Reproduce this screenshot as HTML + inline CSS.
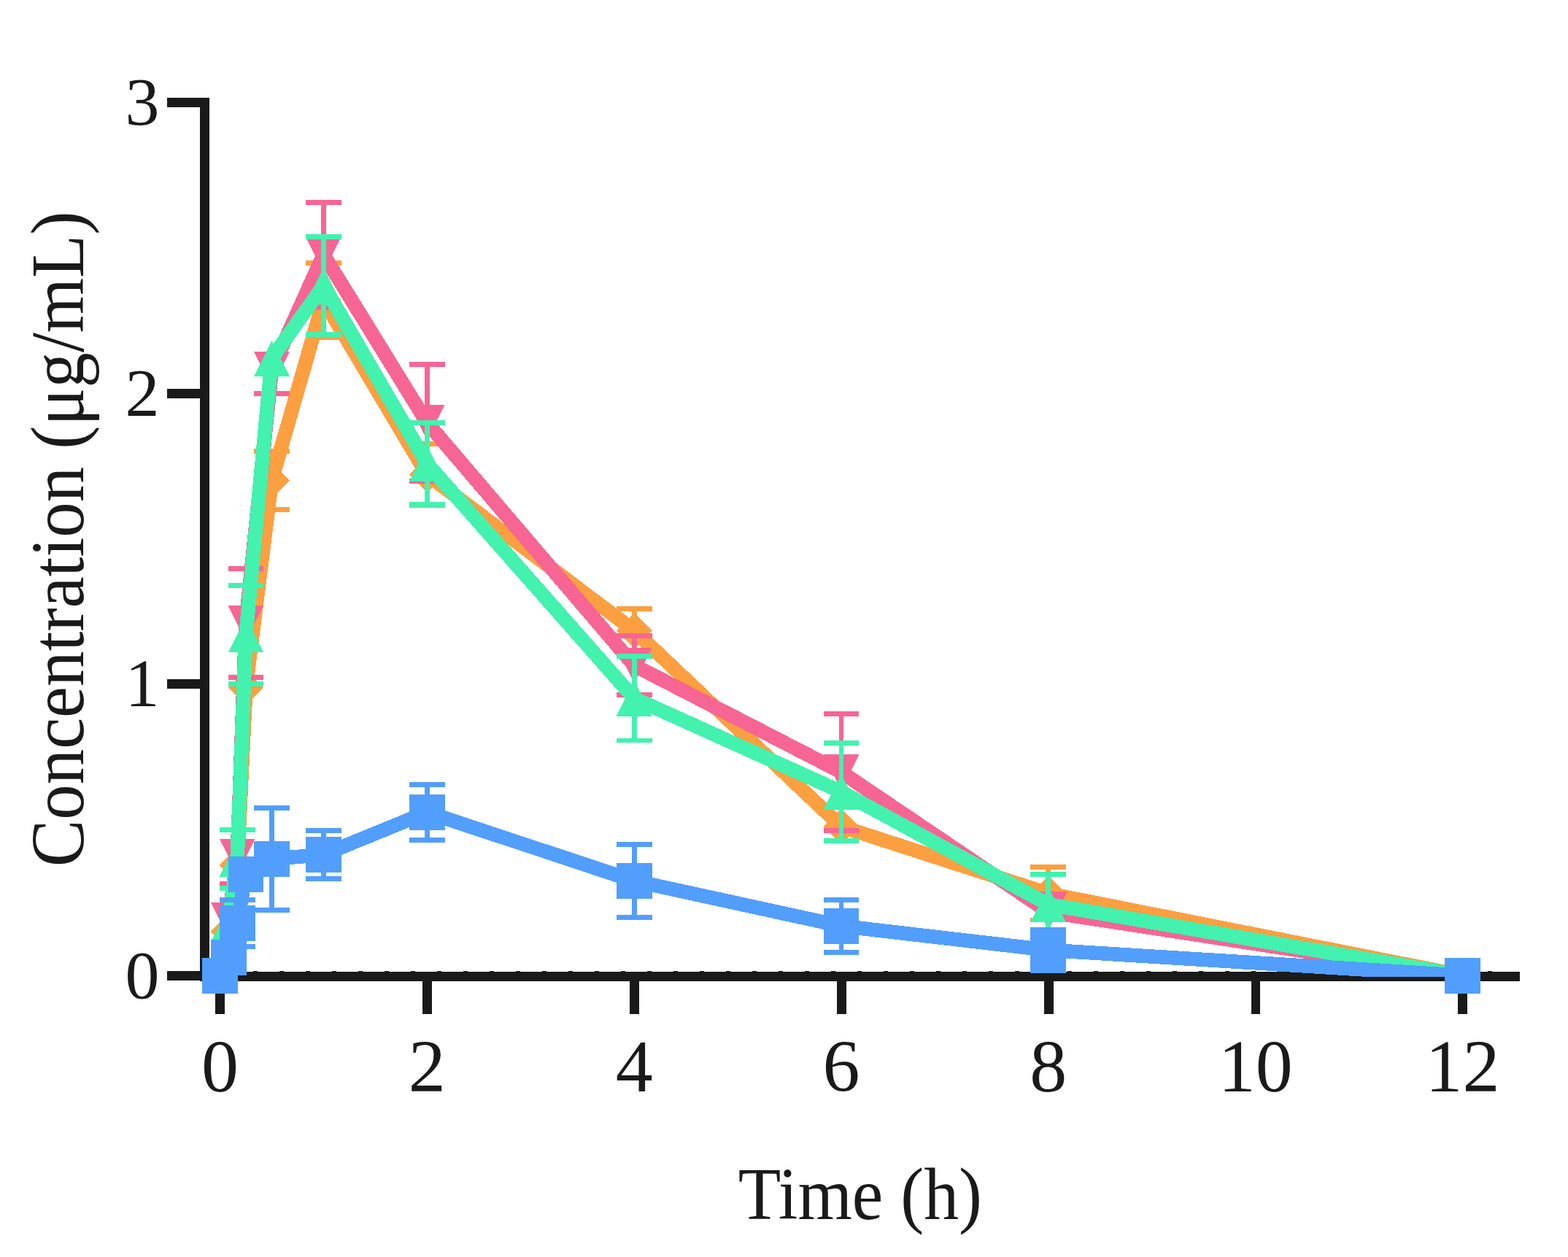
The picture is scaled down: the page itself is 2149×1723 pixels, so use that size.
<!DOCTYPE html>
<html><head><meta charset="utf-8"><title>Concentration vs Time</title>
<style>html,body{margin:0;padding:0;background:#fff;overflow:hidden}svg{display:block}</style>
</head><body>
<svg width="2149" height="1723" viewBox="0 0 2149 1723" shape-rendering="crispEdges">
<defs><clipPath id="pc"><rect x="280" y="0" width="1869" height="1339"/></clipPath></defs>
<rect width="2149" height="1723" fill="#ffffff"/>
<g fill="#1a1a1a"><rect x="274" y="134" width="12.6" height="1210.7"/><rect x="229" y="134" width="58" height="12.6"/><rect x="229" y="533" width="58" height="12.6"/><rect x="229" y="931.1" width="58" height="12.6"/><rect x="229" y="1331.2" width="58" height="12.6"/><rect x="274" y="1332.2" width="1809" height="12.5"/><rect x="295.4" y="1333" width="12.8" height="56.7"/><rect x="579.23" y="1333" width="12.8" height="56.7"/><rect x="863.07" y="1333" width="12.8" height="56.7"/><rect x="1146.9" y="1333" width="12.8" height="56.7"/><rect x="1430.74" y="1333" width="12.8" height="56.7"/><rect x="1714.57" y="1333" width="12.8" height="56.7"/><rect x="1998.4" y="1333" width="12.8" height="56.7"/></g>
<g fill="#1a1a1a"><rect x="275" y="1331" width="6" height="2"/><rect x="311" y="1331" width="6" height="2"/><rect x="347" y="1331" width="6" height="2"/><rect x="383" y="1331" width="6" height="2"/><rect x="419" y="1331" width="6" height="2"/><rect x="455" y="1331" width="6" height="2"/><rect x="491" y="1331" width="6" height="2"/><rect x="527" y="1331" width="6" height="2"/><rect x="563" y="1331" width="6" height="2"/><rect x="599" y="1331" width="6" height="2"/><rect x="635" y="1331" width="6" height="2"/><rect x="671" y="1331" width="6" height="2"/><rect x="707" y="1331" width="6" height="2"/><rect x="743" y="1331" width="6" height="2"/><rect x="779" y="1331" width="6" height="2"/><rect x="815" y="1331" width="6" height="2"/><rect x="851" y="1331" width="6" height="2"/><rect x="887" y="1331" width="6" height="2"/><rect x="923" y="1331" width="6" height="2"/><rect x="959" y="1331" width="6" height="2"/><rect x="995" y="1331" width="6" height="2"/><rect x="1031" y="1331" width="6" height="2"/><rect x="1067" y="1331" width="6" height="2"/><rect x="1103" y="1331" width="6" height="2"/><rect x="1139" y="1331" width="6" height="2"/><rect x="1175" y="1331" width="6" height="2"/><rect x="1211" y="1331" width="6" height="2"/><rect x="1247" y="1331" width="6" height="2"/><rect x="1283" y="1331" width="6" height="2"/><rect x="1319" y="1331" width="6" height="2"/><rect x="1355" y="1331" width="6" height="2"/><rect x="1391" y="1331" width="6" height="2"/><rect x="1427" y="1331" width="6" height="2"/><rect x="1463" y="1331" width="6" height="2"/><rect x="1499" y="1331" width="6" height="2"/><rect x="1535" y="1331" width="6" height="2"/><rect x="1571" y="1331" width="6" height="2"/><rect x="1607" y="1331" width="6" height="2"/><rect x="1643" y="1331" width="6" height="2"/><rect x="1679" y="1331" width="6" height="2"/><rect x="1715" y="1331" width="6" height="2"/><rect x="1751" y="1331" width="6" height="2"/><rect x="1787" y="1331" width="6" height="2"/><rect x="1823" y="1331" width="6" height="2"/><rect x="1859" y="1331" width="6" height="2"/><rect x="1895" y="1331" width="6" height="2"/><rect x="1931" y="1331" width="6" height="2"/><rect x="1967" y="1331" width="6" height="2"/><rect x="2003" y="1331" width="6" height="2"/><rect x="2039" y="1331" width="6" height="2"/></g>
<g font-family="'Liberation Serif', 'Times New Roman', serif" fill="#1a1a1a"><text x="218.5" y="170.6" text-anchor="end" font-size="94">3</text>
<text x="218.5" y="569.6" text-anchor="end" font-size="94">2</text>
<text x="218.5" y="967.7" text-anchor="end" font-size="94">1</text>
<text x="218.5" y="1367.8" text-anchor="end" font-size="94">0</text>
<text x="301.5" y="1496" text-anchor="middle" font-size="102">0</text>
<text x="585.33" y="1496" text-anchor="middle" font-size="102">2</text>
<text x="869.17" y="1496" text-anchor="middle" font-size="102">4</text>
<text x="1153" y="1496" text-anchor="middle" font-size="102">6</text>
<text x="1436.84" y="1496" text-anchor="middle" font-size="102">8</text>
<text x="1720.67" y="1496" text-anchor="middle" font-size="102">10</text>
<text x="2004.5" y="1496" text-anchor="middle" font-size="102">12</text>
<text transform="translate(1178.8,1670.6) scale(0.939,1)" x="0" y="0" text-anchor="middle" font-size="102">Time (h)</text>
<text transform="translate(114,738.9) rotate(-90) scale(0.94,1)" x="0" y="0" text-anchor="middle" font-size="103">Concentration (&#956;g/mL)</text></g>
<polyline clip-path="url(#pc)" points="301.5,1337.3 313.33,1277 325.15,1185.8 336.98,942.5 372.46,658.3 443.42,411.5 585.33,650.5 869.17,864.5 1153,1133 1436.84,1224.8 2004.5,1337.3" fill="none" stroke="#fc9f40" stroke-width="19.5" stroke-linejoin="miter" stroke-miterlimit="10"/>
<g fill="#fc9f40"><rect x="369.06" y="618.3" width="6.8" height="80"/><rect x="348.06" y="614.9" width="48.8" height="6.8"/><rect x="348.06" y="694.9" width="48.8" height="6.8"/><rect x="440.02" y="360.5" width="6.8" height="102"/><rect x="419.02" y="357.1" width="48.8" height="6.8"/><rect x="419.02" y="459.1" width="48.8" height="6.8"/><rect x="581.93" y="608.4" width="6.8" height="84.2"/><rect x="560.93" y="605" width="48.8" height="6.8"/><rect x="560.93" y="689.2" width="48.8" height="6.8"/><rect x="865.77" y="834.5" width="6.8" height="60"/><rect x="844.77" y="831.1" width="48.8" height="6.8"/><rect x="844.77" y="891.1" width="48.8" height="6.8"/><rect x="1433.44" y="1188.6" width="6.8" height="72.4"/><rect x="1412.44" y="1185.2" width="48.8" height="6.8"/><rect x="1412.44" y="1257.6" width="48.8" height="6.8"/></g>
<g fill="#fc9f40"><polygon points="301.5,1312.9 325.9,1337.3 301.5,1361.7 277.1,1337.3"/><polygon points="313.33,1252.6 337.73,1277 313.33,1301.4 288.93,1277"/><polygon points="325.15,1161.4 349.55,1185.8 325.15,1210.2 300.75,1185.8"/><polygon points="336.98,918.1 361.38,942.5 336.98,966.9 312.58,942.5"/><polygon points="372.46,633.9 396.86,658.3 372.46,682.7 348.06,658.3"/><polygon points="443.42,387.1 467.82,411.5 443.42,435.9 419.02,411.5"/><polygon points="585.33,626.1 609.73,650.5 585.33,674.9 560.93,650.5"/><polygon points="869.17,840.1 893.57,864.5 869.17,888.9 844.77,864.5"/><polygon points="1153,1108.6 1177.4,1133 1153,1157.4 1128.6,1133"/><polygon points="1436.84,1200.4 1461.24,1224.8 1436.84,1249.2 1412.44,1224.8"/><polygon points="2004.5,1312.9 2028.9,1337.3 2004.5,1361.7 1980.1,1337.3"/></g>
<polyline clip-path="url(#pc)" points="301.5,1337.3 313.33,1261.2 325.15,1174.3 336.98,854.1 372.46,506.3 443.42,349.2 585.33,579.3 869.17,912.1 1153,1058.3 1436.84,1250 2004.5,1337.3" fill="none" stroke="#f76594" stroke-width="19.5" stroke-linejoin="miter" stroke-miterlimit="10"/>
<g fill="#f76594"><rect x="321.75" y="1137.3" width="6.8" height="74"/><rect x="300.75" y="1133.9" width="48.8" height="6.8"/><rect x="300.75" y="1207.9" width="48.8" height="6.8"/><rect x="333.58" y="779.4" width="6.8" height="149.4"/><rect x="312.58" y="776" width="48.8" height="6.8"/><rect x="312.58" y="925.4" width="48.8" height="6.8"/><rect x="369.06" y="506.3" width="6.8" height="33.2"/><rect x="348.06" y="536.1" width="48.8" height="6.8"/><rect x="440.02" y="277.2" width="6.8" height="144"/><rect x="419.02" y="273.8" width="48.8" height="6.8"/><rect x="419.02" y="417.8" width="48.8" height="6.8"/><rect x="581.93" y="499.3" width="6.8" height="160"/><rect x="560.93" y="495.9" width="48.8" height="6.8"/><rect x="560.93" y="655.9" width="48.8" height="6.8"/><rect x="865.77" y="871.4" width="6.8" height="81.4"/><rect x="844.77" y="868" width="48.8" height="6.8"/><rect x="844.77" y="949.4" width="48.8" height="6.8"/><rect x="1149.6" y="978.3" width="6.8" height="160"/><rect x="1128.6" y="974.9" width="48.8" height="6.8"/><rect x="1128.6" y="1134.9" width="48.8" height="6.8"/><rect x="1433.44" y="1225" width="6.8" height="50"/><rect x="1412.44" y="1221.6" width="48.8" height="6.8"/><rect x="1412.44" y="1271.6" width="48.8" height="6.8"/></g>
<g fill="#f76594"><polygon points="277.1,1312.9 325.9,1312.9 301.5,1361.7"/><polygon points="288.93,1236.8 337.73,1236.8 313.33,1285.6"/><polygon points="300.75,1149.9 349.55,1149.9 325.15,1198.7"/><polygon points="312.58,829.7 361.38,829.7 336.98,878.5"/><polygon points="348.06,481.9 396.86,481.9 372.46,530.7"/><polygon points="419.02,324.8 467.82,324.8 443.42,373.6"/><polygon points="560.93,554.9 609.73,554.9 585.33,603.7"/><polygon points="844.77,887.7 893.57,887.7 869.17,936.5"/><polygon points="1128.6,1033.9 1177.4,1033.9 1153,1082.7"/><polygon points="1412.44,1225.6 1461.24,1225.6 1436.84,1274.4"/><polygon points="1980.1,1312.9 2028.9,1312.9 2004.5,1361.7"/></g>
<polyline clip-path="url(#pc)" points="301.5,1337.3 313.33,1267 325.15,1177.3 336.98,870 372.46,491.2 443.42,391.4 585.33,635.5 869.17,957.2 1153,1085.3 1436.84,1239.7 2004.5,1337.3" fill="none" stroke="#42f2ae" stroke-width="19.5" stroke-linejoin="miter" stroke-miterlimit="10"/>
<g fill="#42f2ae"><rect x="321.75" y="1137.3" width="6.8" height="80"/><rect x="300.75" y="1133.9" width="48.8" height="6.8"/><rect x="300.75" y="1213.9" width="48.8" height="6.8"/><rect x="333.58" y="802.4" width="6.8" height="135.2"/><rect x="312.58" y="799" width="48.8" height="6.8"/><rect x="312.58" y="934.2" width="48.8" height="6.8"/><rect x="440.02" y="324.4" width="6.8" height="134"/><rect x="419.02" y="321" width="48.8" height="6.8"/><rect x="419.02" y="455" width="48.8" height="6.8"/><rect x="581.93" y="579.5" width="6.8" height="112"/><rect x="560.93" y="576.1" width="48.8" height="6.8"/><rect x="560.93" y="688.1" width="48.8" height="6.8"/><rect x="865.77" y="899.4" width="6.8" height="115.6"/><rect x="844.77" y="896" width="48.8" height="6.8"/><rect x="844.77" y="1011.6" width="48.8" height="6.8"/><rect x="1149.6" y="1018.3" width="6.8" height="134"/><rect x="1128.6" y="1014.9" width="48.8" height="6.8"/><rect x="1128.6" y="1148.9" width="48.8" height="6.8"/><rect x="1433.44" y="1198.4" width="6.8" height="82.6"/><rect x="1412.44" y="1195" width="48.8" height="6.8"/><rect x="1412.44" y="1277.6" width="48.8" height="6.8"/></g>
<g fill="#42f2ae"><polygon points="301.5,1312.9 325.9,1361.7 277.1,1361.7"/><polygon points="313.33,1242.6 337.73,1291.4 288.93,1291.4"/><polygon points="325.15,1152.9 349.55,1201.7 300.75,1201.7"/><polygon points="336.98,845.6 361.38,894.4 312.58,894.4"/><polygon points="372.46,466.8 396.86,515.6 348.06,515.6"/><polygon points="443.42,367 467.82,415.8 419.02,415.8"/><polygon points="585.33,611.1 609.73,659.9 560.93,659.9"/><polygon points="869.17,932.8 893.57,981.6 844.77,981.6"/><polygon points="1153,1060.9 1177.4,1109.7 1128.6,1109.7"/><polygon points="1436.84,1215.3 1461.24,1264.1 1412.44,1264.1"/><polygon points="2004.5,1312.9 2028.9,1361.7 1980.1,1361.7"/></g>
<polyline clip-path="url(#pc)" points="301.5,1337.3 313.33,1312.4 325.15,1265.3 336.98,1198.4 372.46,1177.4 443.42,1171.4 585.33,1113.4 869.17,1207.4 1153,1269.3 1436.84,1302.3 2004.5,1337.3" fill="none" stroke="#529efc" stroke-width="19.5" stroke-linejoin="miter" stroke-miterlimit="10"/>
<g fill="#529efc"><rect x="321.75" y="1233.3" width="6.8" height="64"/><rect x="300.75" y="1229.9" width="48.8" height="6.8"/><rect x="300.75" y="1293.9" width="48.8" height="6.8"/><rect x="333.58" y="1178.4" width="6.8" height="40"/><rect x="312.58" y="1175" width="48.8" height="6.8"/><rect x="312.58" y="1215" width="48.8" height="6.8"/><rect x="369.06" y="1107.4" width="6.8" height="140"/><rect x="348.06" y="1104" width="48.8" height="6.8"/><rect x="348.06" y="1244" width="48.8" height="6.8"/><rect x="440.02" y="1138.4" width="6.8" height="66"/><rect x="419.02" y="1135" width="48.8" height="6.8"/><rect x="419.02" y="1201" width="48.8" height="6.8"/><rect x="581.93" y="1075.4" width="6.8" height="76"/><rect x="560.93" y="1072" width="48.8" height="6.8"/><rect x="560.93" y="1148" width="48.8" height="6.8"/><rect x="865.77" y="1157.4" width="6.8" height="100"/><rect x="844.77" y="1154" width="48.8" height="6.8"/><rect x="844.77" y="1254" width="48.8" height="6.8"/><rect x="1149.6" y="1233.3" width="6.8" height="72"/><rect x="1128.6" y="1229.9" width="48.8" height="6.8"/><rect x="1128.6" y="1301.9" width="48.8" height="6.8"/><rect x="1433.44" y="1274.3" width="6.8" height="56"/><rect x="1412.44" y="1270.9" width="48.8" height="6.8"/><rect x="1412.44" y="1326.9" width="48.8" height="6.8"/></g>
<g fill="#529efc"><rect x="277.1" y="1312.9" width="48.8" height="48.8"/><rect x="288.93" y="1288" width="48.8" height="48.8"/><rect x="300.75" y="1240.9" width="48.8" height="48.8"/><rect x="312.58" y="1174" width="48.8" height="48.8"/><rect x="348.06" y="1153" width="48.8" height="48.8"/><rect x="419.02" y="1147" width="48.8" height="48.8"/><rect x="560.93" y="1089" width="48.8" height="48.8"/><rect x="844.77" y="1183" width="48.8" height="48.8"/><rect x="1128.6" y="1244.9" width="48.8" height="48.8"/><rect x="1412.44" y="1277.9" width="48.8" height="48.8"/><rect x="1980.1" y="1312.9" width="48.8" height="48.8"/></g>
</svg>
</body></html>
